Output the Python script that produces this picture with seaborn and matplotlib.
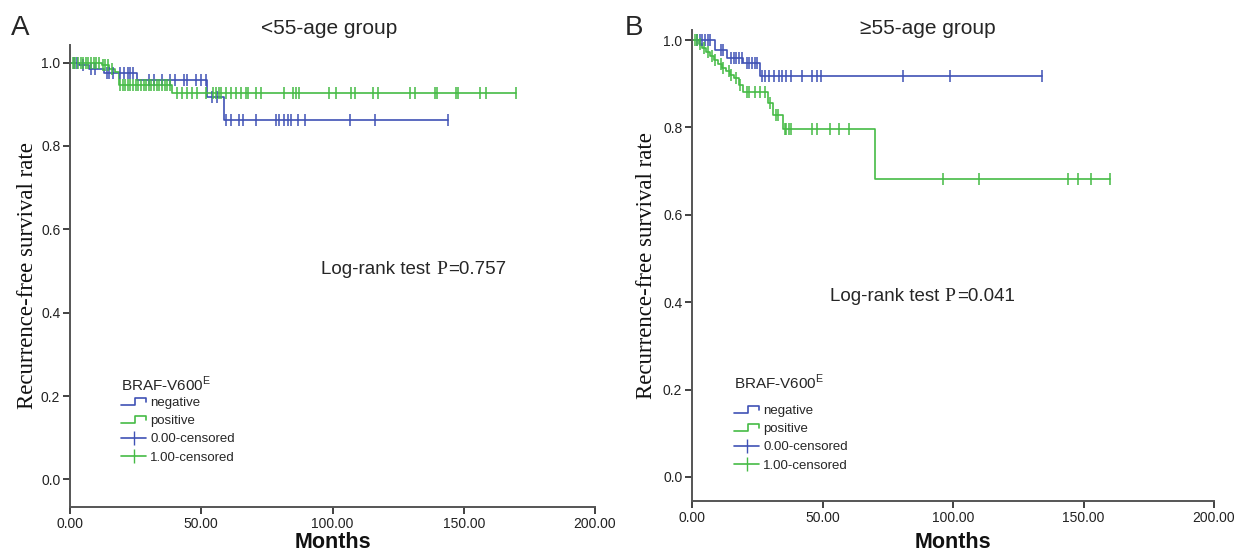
import numpy as np
import matplotlib
matplotlib.use("Agg")
import matplotlib.pyplot as plt
from matplotlib.legend_handler import HandlerBase
from matplotlib.lines import Line2D
import seaborn as sns

# ---- data ----
# panel A (<55)
a_neg_times = [0, 3.4, 7.3, 13, 25.6, 52.3, 58.8]
a_neg_surv = [1.0, 0.994, 0.984, 0.976, 0.958, 0.918, 0.862]
a_neg_cens = [1.5, 2.5, 5, 8, 9.5, 14, 15, 16.5, 19, 20.5, 22, 23, 24, 30, 32, 35, 38,
              40, 43.5, 44.7, 48, 50, 51.9, 54, 56, 59.4, 61.3, 64.5, 65.8, 70.9, 78.5,
              79.8, 81.7, 82.9, 84.2, 86.7, 89.7, 106.5, 116, 144]
a_pos_times = [0, 12, 15, 17, 18.5, 39]
a_pos_surv = [1.0, 0.993, 0.985, 0.977, 0.946, 0.926]
a_pos_cens = [1, 2, 3, 4, 5, 6, 7, 8, 9, 10, 11, 12.5, 13.5, 14.5, 16,
              19, 20, 21, 22, 23, 24, 25, 26, 27, 28, 29, 30, 31, 32, 33, 34, 35, 36, 37, 38,
              40.8, 42.7, 44.7, 46.6, 48.5, 51.9, 54.3, 55.6, 56.9, 57.5, 59.4, 61.3, 63.2,
              65.1, 67.0, 67.7, 70.9, 72.8, 81.7, 84.9, 86.1, 87.4, 98.8, 101.4, 107.1,
              108.4, 115.4, 117.3, 129.4, 131.3, 138.9, 139.8, 147.2, 147.8, 156.1, 158.6, 170]

# panel B (>=55)
b_neg_times = [0, 9, 13.5, 19.5, 26]
b_neg_surv = [1.0, 0.977, 0.958, 0.947, 0.918]
b_neg_cens = [2, 3, 4, 5, 6, 7, 11, 12, 15, 16, 17, 18, 19, 21, 22, 23, 24, 25, 27, 28,
              29.6, 31.5, 33.5, 34.6, 36, 38, 42, 45.8, 48, 49.6, 81, 99, 134]
b_pos_times = [0, 2.5, 4, 5.5, 7, 8.5, 10, 11.5, 13, 14.5, 16, 18, 19.5, 29, 31, 34.7, 70]
b_pos_surv = [1.0, 0.99, 0.981, 0.972, 0.963, 0.955, 0.946, 0.937, 0.929, 0.921, 0.912,
              0.898, 0.882, 0.855, 0.828, 0.796, 0.682]
b_pos_cens = [1, 2, 3, 4.5, 6, 7.5, 9, 11, 12, 14, 15, 17, 18.5, 21, 22, 24, 26, 28, 30,
              32, 33, 35.5, 36, 37, 38, 45.8, 48, 52.7, 56.5, 60, 96, 110, 144, 148, 153, 160]

titles = ["<55-age group", "\u226555-age group"]
panel_letters = ["A", "B"]
pvalues = ["0.757", "0.041"]
legend_labels = ["negative", "positive", "0.00-censored", "1.00-censored"]
xticks = [0, 50, 100, 150, 200]
yticks = [0.0, 0.2, 0.4, 0.6, 0.8, 1.0]

BLUE = "#4052b5"
GREEN = "#45bb45"
SANS = "Liberation Sans"
SERIF = "Liberation Serif"

sns.set_style("ticks")
plt.rcParams["font.family"] = [SANS, "DejaVu Sans"]
plt.rcParams["mathtext.fontset"] = "custom"
plt.rcParams["mathtext.rm"] = SANS


class StepHandler(HandlerBase):
    # draws the little step glyph SPSS uses for curves in the legend
    def create_artists(self, legend, orig_handle, xdescent, ydescent, width, height,
                       fontsize, trans):
        w, h = width, height
        xs = np.array([0, 0.55, 0.55, 1.0, 1.0]) * w - xdescent
        ys = np.array([0.15, 0.15, 0.85, 0.85, 0.45]) * h - ydescent
        ln = Line2D(xs, ys, color=orig_handle.get_color(), lw=1.2, transform=trans)
        return [ln]


def draw_km(ax, times, surv, cens, color):
    times = np.asarray(times)
    surv = np.asarray(surv)
    cens = np.asarray(cens)
    end = max(cens.max(), times.max())
    xs = np.append(times, end)
    ys = np.append(surv, surv[-1])
    sns.lineplot(x=xs, y=ys, drawstyle="steps-post", estimator=None, sort=False,
                 color=color, lw=1.2, ax=ax)
    idx = np.searchsorted(times, cens, side="right") - 1
    sns.scatterplot(x=cens, y=surv[idx], marker="|", s=70, color=color,
                    linewidth=1.1, ax=ax, zorder=3)


fig = plt.figure(figsize=(12.35, 5.53), dpi=100)
# axes boxes in figure pixels: left, top, right, bottom
boxes = [(70, 45, 595, 507), (692, 30, 1214, 501)]
ylims = [(-0.066, 1.042), (-0.055, 1.023)]
curves = [
    [(a_neg_times, a_neg_surv, a_neg_cens), (a_pos_times, a_pos_surv, a_pos_cens)],
    [(b_neg_times, b_neg_surv, b_neg_cens), (b_pos_times, b_pos_surv, b_pos_cens)],
]
W, H = 1235, 553
ylabel_x = [-0.06, -0.067]
xlabel_y = [-0.054, -0.066]
logrank_pos = [(0.697, 0.514), (0.483, 0.435)]
legend_anchor = [(0.075, 0.312), (0.058, 0.297)]
legend_sep = [2, 9]
title_x = [329, 928]
letter_x = [20, 634]

for i in range(2):
    l, t, r, b = boxes[i]
    ax = fig.add_axes([l / W, 1 - b / H, (r - l) / W, (b - t) / H])
    for (tm, sv, cn), col in zip(curves[i], [BLUE, GREEN]):
        draw_km(ax, tm, sv, cn, col)

    ax.set_xlim(0, 200)
    ax.set_ylim(*ylims[i])
    ax.set_xticks(xticks)
    ax.set_xticklabels([f"{v:.2f}" for v in xticks])
    ax.set_yticks(yticks)
    ax.set_yticklabels([f"{v:.1f}" for v in yticks])
    ax.tick_params(axis="both", direction="out", length=5, width=1.3, color="#333333",
                   labelsize=10, labelcolor="#222222", pad=2)
    sns.despine(ax=ax)
    for side in ["left", "bottom"]:
        ax.spines[side].set_color("#555555")
        ax.spines[side].set_linewidth(1.4)

    ax.set_ylabel("Recurrence-free survival rate", family=SERIF, fontsize=16.5, color="#111111")
    ax.yaxis.set_label_coords(ylabel_x[i], 0.5)
    ax.set_xlabel("Months", fontsize=15.5, fontweight="bold", color="#111111")
    ax.xaxis.set_label_coords(0.5, xlabel_y[i])

    # "Log-rank test P=..." with the P in a serif face, as in the original
    lx, ly = logrank_pos[i]
    ax.text(lx, ly, "Log-rank test ", transform=ax.transAxes, ha="right", va="center",
            fontsize=13.5)
    ax.text(lx, ly, "P", family=SERIF, transform=ax.transAxes, ha="left", va="center",
            fontsize=14)
    ax.text(lx + 0.024, ly, "=" + pvalues[i], transform=ax.transAxes, ha="left",
            va="center", fontsize=13.5)

    handles = [Line2D([], [], color=BLUE), Line2D([], [], color=GREEN),
               Line2D([], [], color=BLUE, marker="|", markersize=10, lw=1.2),
               Line2D([], [], color=GREEN, marker="|", markersize=10, lw=1.2)]
    leg = ax.legend(handles, legend_labels, title="BRAF-V600$^\\mathregular{E}$",
                    loc="upper left", bbox_to_anchor=legend_anchor[i], frameon=False,
                    fontsize=9.5, title_fontsize=11, handlelength=1.9, handletextpad=0.3,
                    labelspacing=0.45, alignment="left",
                    handler_map={handles[0]: StepHandler(), handles[1]: StepHandler()})
    leg._legend_box.sep = legend_sep[i]

    fig.text(title_x[i] / W, 1 - 28 / H, titles[i], ha="center", va="center", fontsize=15)
    fig.text(letter_x[i] / W, 1 - 28 / H, panel_letters[i], ha="center", va="center",
             fontsize=20)

fig.savefig("out.png", dpi=100)
